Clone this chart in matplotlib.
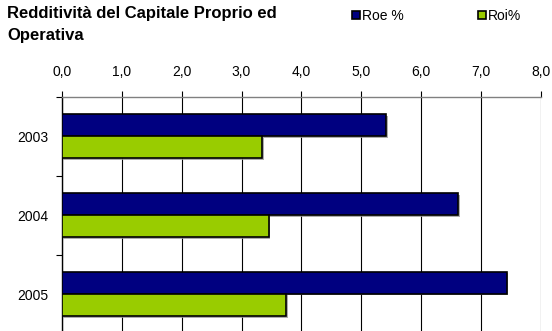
import numpy as np
import matplotlib
matplotlib.use('Agg')
import matplotlib.pyplot as plt
import matplotlib.patches as mpatches
import matplotlib.patheffects as pe

plt.rcParams['font.family'] = ['Liberation Sans', 'DejaVu Sans']

years = ['2003', '2004', '2005']
roe = [5.42, 6.62, 7.43]
roi = [3.35, 3.46, 3.75]
series_labels = ['Roe %', 'Roi%']
x_ticks = [0, 1, 2, 3, 4, 5, 6, 7, 8]

navy = '#000080'
green = '#99CC00'

fig = plt.figure(figsize=(5.52, 3.31), dpi=100)
ax = fig.add_axes([62 / 552, -2.5 / 331, (540.7 - 62) / 552, (333.5 - 97) / 331])

y = np.arange(len(years))
h = 0.28
shadow = [pe.SimplePatchShadow(offset=(1, -1), shadow_rgbFace='#999999', alpha=0.8), pe.Normal()]
b1 = ax.barh(y - h / 2, roe, height=h, color=navy, edgecolor='black', linewidth=1.2, zorder=3)
b2 = ax.barh(y + h / 2, roi, height=h, color=green, edgecolor='black', linewidth=1.2, zorder=3)
for b in list(b1) + list(b2):
    b.set_path_effects(shadow)

ax.set_xlim(0, 8)
ax.set_ylim(len(years) - 0.5, -0.5)

# x axis on top, comma decimals
ax.xaxis.tick_top()
ax.set_xticks(x_ticks)
ax.set_xticklabels([('%.1f' % v).replace('.', ',') for v in x_ticks], fontsize=10)
ax.tick_params(axis='x', length=4, width=0.8, color='black', pad=9)
ax.grid(axis='x', color='black', linewidth=0.8, zorder=0)

ax.set_yticks(y)
ax.set_yticklabels(years, fontsize=10)
ax.set_yticks(np.arange(len(years) + 1) - 0.5, minor=True)
ax.tick_params(axis='y', which='major', length=0, pad=10)
ax.tick_params(axis='y', which='minor', length=4, width=0.8)

for s in ['right', 'bottom']:
    ax.spines[s].set_visible(False)
ax.spines['top'].set_color('#808080')
ax.spines['top'].set_linewidth(1.0)
ax.spines['left'].set_color('black')
ax.spines['left'].set_linewidth(1.0)

fig.text(7 / 552, 1 - 6 / 331, 'Redditività del Capitale Proprio ed\nOperativa',
         fontsize=12, fontweight='bold', va='top', ha='left', linespacing=1.6)

handles = [mpatches.Patch(facecolor=navy, edgecolor='black', linewidth=1.2),
           mpatches.Patch(facecolor=green, edgecolor='black', linewidth=1.2)]
leg = fig.legend(handles, series_labels, loc='center left', bbox_to_anchor=(352 / 552, 1 - 16 / 331),
                 ncol=2, frameon=False, fontsize=10, handlelength=0.55, handleheight=0.55,
                 handletextpad=0.15, columnspacing=5.4, borderpad=0, borderaxespad=0)

plt.savefig('out.png', dpi=100)
